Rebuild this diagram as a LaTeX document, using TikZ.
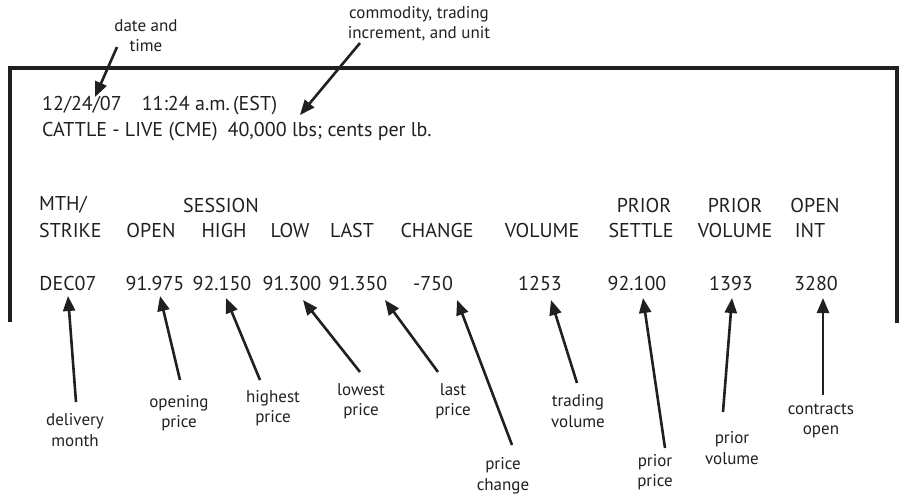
\documentclass[tikz,border=0pt]{standalone}
\usepackage{fontspec}
\setmainfont{PT Sans}
\usetikzlibrary{arrows.meta}
\definecolor{ink}{RGB}{35,31,32}
\tikzset{
  big/.style={font=\fontsize{20}{25}\selectfont, text=ink, inner sep=0pt},
  lab/.style={font=\fontsize{17}{20.5}\selectfont, text=ink, align=center, inner sep=0pt},
  arr/.style={draw=ink, line width=2.6pt, -{Triangle[length=15pt,width=12pt]}},
  frame/.style={draw=ink, line width=4.5pt, line join=miter}
}
\begin{document}
\begin{tikzpicture}[x=1pt,y=-1pt]
\useasboundingbox (0,0) rectangle (903,495);
% frame
\draw[frame] (10,322) -- (10,68) -- (897,68) -- (897,323);
% top annotations
\node[lab] (dt) at (146,35.5) {date and\\time};
\node[lab] (cm) at (419,23.5) {commodity, trading\\increment, and unit};
\coordinate (dtT) at (117,47);
\coordinate (dtH) at (95,97);
\coordinate (cmT) at (360,43);
\coordinate (cmH) at (300,115);
\draw[arr] (dtT) -- (dtH);
\draw[arr] (cmT) -- (cmH);
% header text
\node[big, anchor=west] (l1) at (42,106) {12/24/07\hspace{1em}11:24 a.m.\,(EST)};
\node[big, anchor=west] (l2) at (42,132) {CATTLE - LIVE (CME)\hspace{0.5em}40,000 lbs; cents per lb.};
% column headers
\node[big, anchor=west] (h1) at (39,205) {MTH/};
\node[big] (h2) at (221,205) {SESSION};
\node[big] (h3) at (644,205) {PRIOR};
\node[big] (h4) at (735,205) {PRIOR};
\node[big] (h5) at (815,205) {OPEN};
\node[big, anchor=west] (s1) at (39,230) {STRIKE};
\node[big] (s2) at (151,230) {OPEN};
\node[big] (s3) at (224,230) {HIGH};
\node[big] (s4) at (290,230) {LOW};
\node[big] (s5) at (352,230) {LAST};
\node[big] (s6) at (437,230) {CHANGE};
\node[big] (s7) at (542,230) {VOLUME};
\node[big] (s8) at (641,230) {SETTLE};
\node[big] (s9) at (735,230) {VOLUME};
\node[big] (s10) at (810,230) {INT};
% data
\node[big] (d1) at (68,283) {DEC07};
\node[big] (d2) at (155,283) {91.975};
\node[big] (d3) at (222,283) {92.150};
\node[big] (d4) at (292,283) {91.300};
\node[big] (d5) at (358,283) {91.350};
\node[big] (d6) at (433,283) {-750};
\node[big] (d7) at (540,283) {1253};
\node[big] (d8) at (637,283) {92.100};
\node[big] (d9) at (731,283) {1393};
\node[big] (d10) at (816,283) {3280};
% bottom labels
\node[lab] (b1) at (75,430) {delivery\\month};
\node[lab] (b2) at (179,413) {opening\\price};
\node[lab] (b3) at (273,408) {highest\\price};
\node[lab] (b4) at (361,401) {lowest\\price};
\node[lab] (b5) at (453,401) {last\\price};
\node[lab] (b6) at (503,476) {price\\change};
\node[lab] (b7) at (578,411) {trading\\volume};
\node[lab] (b8) at (655,472) {prior\\price};
\node[lab] (b9) at (732,448) {prior\\volume};
\node[lab] (b10) at (821,421) {contracts\\open};
% arrow ends
\coordinate (t1) at (76,402);  \coordinate (p1) at (68,296);
\coordinate (t2) at (180,380); \coordinate (p2) at (160,296);
\coordinate (t3) at (260,380); \coordinate (p3) at (226,298);
\coordinate (t4) at (360,372); \coordinate (p4) at (303,300);
\coordinate (t5) at (438,372); \coordinate (p5) at (385,300);
\coordinate (t6) at (512,445); \coordinate (p6) at (457,300);
\coordinate (t7) at (577,383); \coordinate (p7) at (551,300);
\coordinate (t8) at (665,448); \coordinate (p8) at (643,298);
\coordinate (t9) at (723,412); \coordinate (p9) at (732,298);
\coordinate (t10) at (823,395); \coordinate (p10) at (823,298);
\foreach \i in {1,...,10} { \draw[arr] (t\i) -- (p\i); }
\end{tikzpicture}
\end{document}
